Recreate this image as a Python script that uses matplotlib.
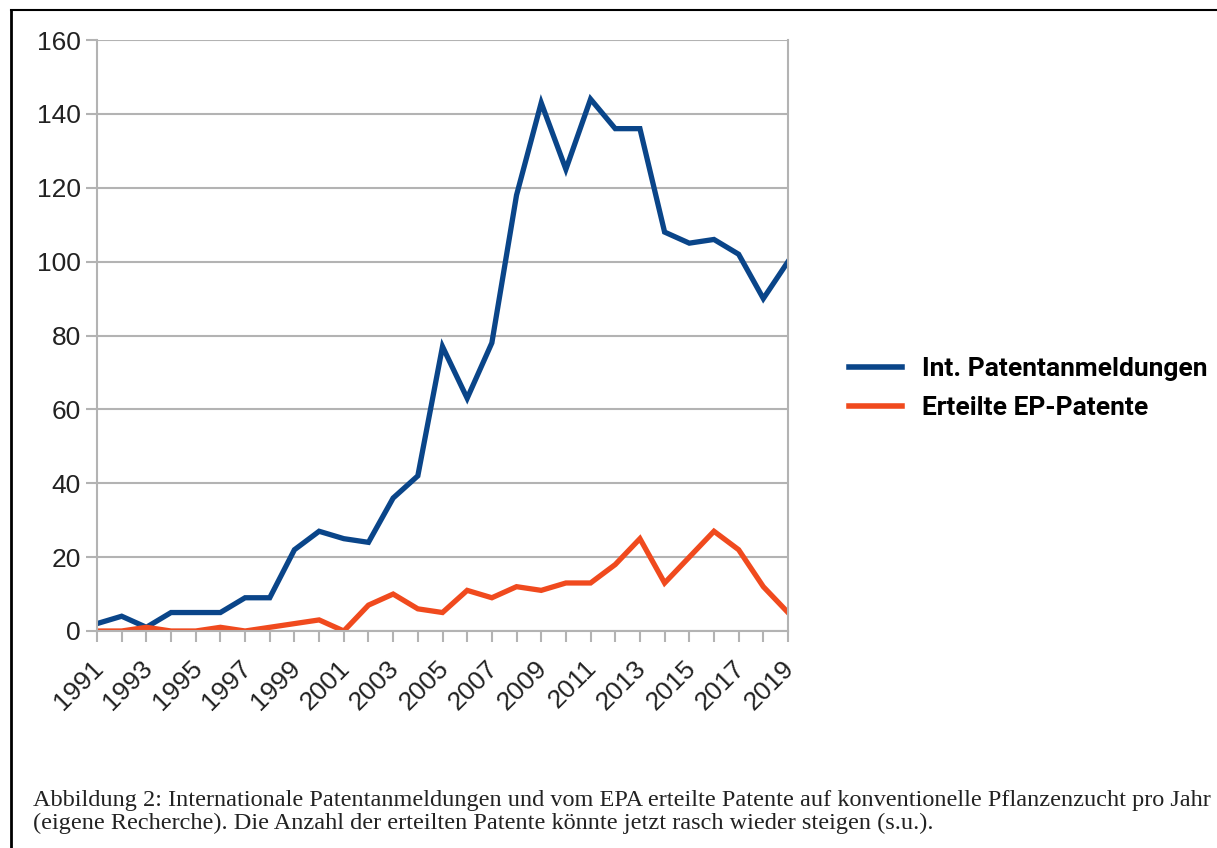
import matplotlib.pyplot as plt
from matplotlib.lines import Line2D
from matplotlib.transforms import ScaledTranslation

# Jahre und Werte
years = list(range(1991, 2020))
int_anmeldungen = [2, 4, 1, 5, 5, 5, 9, 9, 22, 27, 25, 24, 36, 42, 77, 63, 78,
                   118, 143, 125, 144, 136, 136, 108, 105, 106, 102, 90, 100]
ep_patente = [0, 0, 1, 0, 0, 1, 0, 1, 2, 3, 0, 7, 10, 6, 5, 11, 9,
              12, 11, 13, 13, 18, 25, 13, 20, 27, 22, 12, 5]
series_names = ['Int. Patentanmeldungen', 'Erteilte EP-Patente']
year_labels = [str(y) if (y - 1991) % 2 == 0 else '' for y in years]
y_ticks = [0, 20, 40, 60, 80, 100, 120, 140, 160]

caption = ('Abbildung 2: Internationale Patentanmeldungen und vom EPA erteilte Patente '
           'auf konventionelle Pflanzenzucht pro Jahr\n'
           '(eigene Recherche). Die Anzahl der erteilten Patente könnte jetzt rasch '
           'wieder steigen (s.u.).')

fig = plt.figure(figsize=(12.17, 8.48), dpi=100)
ax = fig.add_axes([97 / 1217, 1 - 631 / 848, (788 - 97) / 1217, (631 - 40) / 848])

ax.plot(years, int_anmeldungen, color='#0a4589', lw=3.8, solid_joinstyle='miter',
        label=series_names[0])
ax.plot(years, ep_patente, color='#f04a1e', lw=3.8, solid_joinstyle='miter',
        label=series_names[1])

ax.set_xlim(1991, 2019)
ax.set_ylim(0, 160)
ax.set_yticks(y_ticks)
ax.set_xticks(years)
ax.set_xticklabels(year_labels, rotation=45, ha='right', rotation_mode='anchor')
ax.grid(axis='y', color='#b3b3b3', lw=1.5)
ax.set_axisbelow(True)
for s in ax.spines.values():
    s.set_color('#b3b3b3')
    s.set_linewidth(1.5)
ax.spines['top'].set_visible(False)
ax.tick_params(axis='both', color='#b3b3b3', width=1.5, length=8,
               labelcolor='#222222', labelsize=19)
ax.tick_params(axis='x', labelsize=19, pad=10)
for lab in ax.get_xticklabels() + ax.get_yticklabels():
    lab.set_family('Liberation Sans')
shift = ScaledTranslation(-6 / 100, 0, fig.dpi_scale_trans)
for lab in ax.get_xticklabels():
    lab.set_transform(lab.get_transform() + shift)

leg = ax.legend(loc='center left', bbox_to_anchor=(1.054, 0.41), frameon=False,
                handlelength=2.0, handletextpad=0.75, labelspacing=0.55,
                prop={'family': 'Roboto', 'weight': 'bold', 'size': 19})
for h in leg.get_lines():
    h.set_linewidth(4)

fig.text(33 / 1217, 1 - 812 / 848, caption, family='Liberation Serif', fontsize=17.5,
         color='#222222', linespacing=1.15, va='center', ha='left')

# schwarzer Rahmen links und oben
fig.add_artist(Line2D([11 / 1217, 11 / 1217], [0, 1 - 10 / 848], color='black', lw=2))
fig.add_artist(Line2D([11 / 1217, 1], [1 - 10 / 848, 1 - 10 / 848], color='black', lw=1.5))

fig.savefig('out.png', dpi=100)
